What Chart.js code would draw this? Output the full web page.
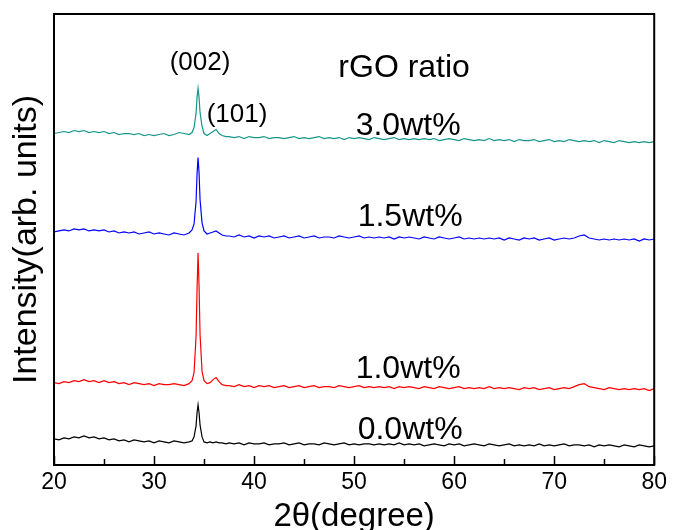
<!DOCTYPE html>
<html>
<head>
<meta charset="utf-8">
<script src="https://cdn.jsdelivr.net/npm/chart.js@4/dist/chart.umd.min.js"></script>
<style>
  html, body { margin: 0; padding: 0; background: #fff; }
  #xrdGraph { display: block; }
</style>
</head>
<body>
<canvas id="xrdGraph" width="673" height="530"></canvas>
<script>
// 2theta sampling positions (degree)
const twoTheta = [
    20, 20.5, 21, 21.5, 22, 22.5, 23, 23.5, 24, 24.5, 25, 25.5, 26, 26.5, 27, 27.5, 28, 28.5, 29, 29.5,
    30, 30.5, 31, 31.5, 32, 32.5, 33, 33.5,
    33.8, 34.0, 34.2, 34.3, 34.4, 34.5, 34.6, 34.8, 35.0, 35.3, 35.6, 35.9, 36.2, 36.5, 36.8, 37.2,
    37.5, 38, 38.5, 39, 39.5, 40, 40.5, 41, 41.5, 42, 42.5, 43, 43.5, 44, 44.5, 45, 45.5, 46, 46.5, 47,
    47.5, 48, 48.5, 49, 49.5, 50, 50.5, 51, 51.5, 52, 52.5, 53, 53.5, 54, 54.5, 55, 55.5, 56, 56.5, 57,
    57.5, 58, 58.5, 59, 59.5, 60, 60.5, 61, 61.5, 62, 62.5, 63, 63.5, 64, 64.5, 65, 65.5, 66, 66.5, 67,
    67.5, 68, 68.5, 69, 69.5, 70, 70.5, 71, 71.5, 72, 72.5, 73, 73.5, 74, 74.5, 75, 75.5, 76, 76.5, 77,
    77.5, 78, 78.5, 79, 79.5, 80
];

// intensity, arb. units (traces stacked with offsets as in the figure)
const rgo00 = [
    26, 25, 27, 26, 28, 27, 29, 27, 28, 26, 27, 25, 26, 24, 25, 23, 25, 24, 23, 24,
    22, 24, 23, 22, 24, 23, 22, 23,
    24, 28, 39, 52, 60, 52, 40, 28, 23, 22, 23, 22, 23, 22, 22, 21,
    22, 21, 22, 20, 22, 21, 21, 22, 20, 21, 21, 22, 20, 21, 22, 20, 21, 21, 20, 22,
    21, 20, 21, 22, 20, 21, 20, 21, 21, 20, 21, 20, 21, 20, 22, 20, 21, 20, 21, 19,
    20, 21, 20, 19, 21, 20, 21, 19, 20, 21, 20, 19, 21, 20, 19, 20, 21, 19, 20, 19,
    20, 19, 21, 19, 20, 19, 20, 21, 19, 20, 20, 19, 20, 18, 20, 19, 20, 19, 18, 20,
    19, 18, 20, 19, 18, 19
];
const rgo10 = [
    82, 81, 83, 82, 84, 83, 85, 83, 84, 82, 84, 82, 83, 81, 82, 80, 82, 81, 80, 81,
    79, 81, 80, 80, 81, 80, 79, 81,
    84, 92, 128, 175, 211, 178, 130, 93, 84, 81, 82, 85, 87, 83, 80, 79,
    79, 78, 80, 78, 79, 77, 79, 78, 79, 77, 78, 79, 77, 78, 79, 77, 78, 79, 77, 78,
    78, 77, 79, 78, 77, 78, 79, 77, 78, 77, 78, 77, 78, 76, 78, 77, 78, 77, 76, 78,
    77, 76, 78, 77, 76, 77, 78, 76, 77, 76, 77, 76, 78, 76, 77, 76, 77, 76, 75, 77,
    76, 77, 75, 76, 77, 75, 76, 77, 76, 78, 80, 81, 78, 77, 76, 75, 77, 76, 75, 76,
    75, 76, 75, 76, 74, 76
];
const rgo15 = [
    232, 233, 234, 233, 235, 234, 235, 233, 234, 233, 234, 232, 233, 231, 232, 231, 232, 230, 231, 232,
    230, 231, 230, 229, 231, 230, 229, 231,
    234, 240, 262, 290, 306, 291, 264, 241, 233, 230, 231, 232, 233, 231, 229, 228,
    228, 227, 229, 227, 228, 226, 228, 227, 228, 226, 227, 228, 226, 227, 228, 226, 227, 228, 226, 227,
    227, 226, 228, 227, 226, 227, 228, 226, 227, 226, 227, 226, 227, 225, 227, 226, 227, 226, 225, 227,
    226, 225, 227, 226, 225, 226, 227, 225, 226, 225, 226, 225, 226, 225, 226, 224, 226, 225, 224, 226,
    225, 226, 224, 225, 226, 224, 225, 226, 225, 226, 228, 229, 226, 225, 224, 225, 224, 225, 224, 225,
    224, 225, 223, 225, 224, 225
];
const rgo30 = [
    330, 331, 332, 331, 333, 332, 333, 331, 332, 331, 332, 330, 331, 329, 330, 330, 329, 330, 328, 329,
    328, 329, 330, 328, 329, 331, 330, 329,
    331, 336, 350, 366, 375, 366, 351, 337, 330, 328, 330, 332, 334, 330, 328, 327,
    327, 326, 327, 325, 327, 326, 326, 327, 325, 326, 326, 325, 326, 327, 325, 326, 325, 326, 327, 325,
    326, 325, 326, 324, 326, 325, 326, 325, 324, 326, 325, 324, 325, 326, 324, 325, 324, 325, 324, 325,
    324, 325, 323, 324, 325, 324, 323, 325, 324, 323, 324, 323, 325, 323, 324, 323, 324, 322, 324, 323,
    323, 324, 322, 323, 324, 322, 323, 322, 324, 323, 322, 323, 322, 323, 321, 323, 322, 321, 323, 322,
    321, 322, 321, 322, 321, 322
];

// text labels placed in data coordinates: [text, 2theta, intensity, font size]
const annotations = [
    ["(002)", 34.6, 400, 26],
    ["rGO ratio", 55.0, 395, 32],
    ["(101)", 38.3, 349, 26],
    ["3.0wt%", 55.4, 337, 32],
    ["1.5wt%", 55.6, 247, 32],
    ["1.0wt%", 55.4, 95, 32],
    ["0.0wt%", 55.6, 35, 32]
];

const FONT = "'Liberation Sans', Arial, sans-serif";

function to_points(values) {
    return twoTheta.map((t, i) => ({ x: t, y: values[i] }));
}

// frame, inward bottom ticks and the text labels
const xrdDecorations = {
    id: 'xrdDecorations',
    afterDraw(chart) {
        const ctx = chart.ctx;
        const area = chart.chartArea;
        const xs = chart.scales.x;
        const ys = chart.scales.y;
        ctx.save();
        ctx.strokeStyle = '#000';
        ctx.lineWidth = 2;
        ctx.strokeRect(area.left, area.top, area.right - area.left, area.bottom - area.top);
        ctx.lineWidth = 1.5;
        for (let v = 20; v <= 80; v += 5) {
            const px = Math.round(xs.getPixelForValue(v)) + 0.5;
            const len = v % 10 === 0 ? 9 : 6;
            ctx.beginPath();
            ctx.moveTo(px, area.bottom);
            ctx.lineTo(px, area.bottom - len);
            ctx.stroke();
        }
        ctx.fillStyle = '#000';
        ctx.textAlign = 'center';
        ctx.textBaseline = 'middle';
        annotations.forEach(([text, x, y, size]) => {
            ctx.font = `${size}px ${FONT}`;
            ctx.fillText(text, xs.getPixelForValue(x), ys.getPixelForValue(y));
        });
        ctx.restore();
    }
};

function build_xrd_config() {
    const series = [
        { data: rgo00, color: '#000000' },
        { data: rgo10, color: '#ff0000' },
        { data: rgo15, color: '#0000ff' },
        { data: rgo30, color: '#17968b' }
    ];
    return {
        type: 'line',
        data: {
            datasets: series.map(s => ({
                data: to_points(s.data),
                borderColor: s.color,
                borderWidth: 1.2,
                pointRadius: 0,
                tension: 0,
                fill: false
            }))
        },
        options: {
            responsive: false,
            animation: false,
            devicePixelRatio: 1,
            layout: { padding: { top: 14, right: 15, left: 10, bottom: -3 } },
            plugins: { legend: { display: false }, tooltip: { enabled: false } },
            scales: {
                x: {
                    type: 'linear',
                    min: 20,
                    max: 80,
                    ticks: { stepSize: 10, color: '#000', padding: 6, font: { family: FONT, size: 23, lineHeight: 1.0 } },
                    grid: { display: false, drawTicks: false },
                    border: { display: true, color: '#000', width: 2 },
                    title: {
                        display: true,
                        text: '2θ(degree)',
                        color: '#000',
                        padding: { top: 0, bottom: 0 },
                        font: { family: FONT, size: 33, lineHeight: 1.0 }
                    }
                },
                y: {
                    type: 'linear',
                    min: 0,
                    max: 449,
                    ticks: { display: false },
                    grid: { display: false, drawTicks: false },
                    border: { display: true, color: '#000', width: 2 },
                    title: {
                        display: true,
                        text: 'Intensity(arb. units)',
                        color: '#000',
                        padding: { top: 0, bottom: 10 },
                        font: { family: FONT, size: 34, lineHeight: 1.0 }
                    }
                }
            }
        },
        plugins: [xrdDecorations]
    };
}

const xrdGraph = new Chart('xrdGraph', build_xrd_config());
</script>
</body>
</html>
